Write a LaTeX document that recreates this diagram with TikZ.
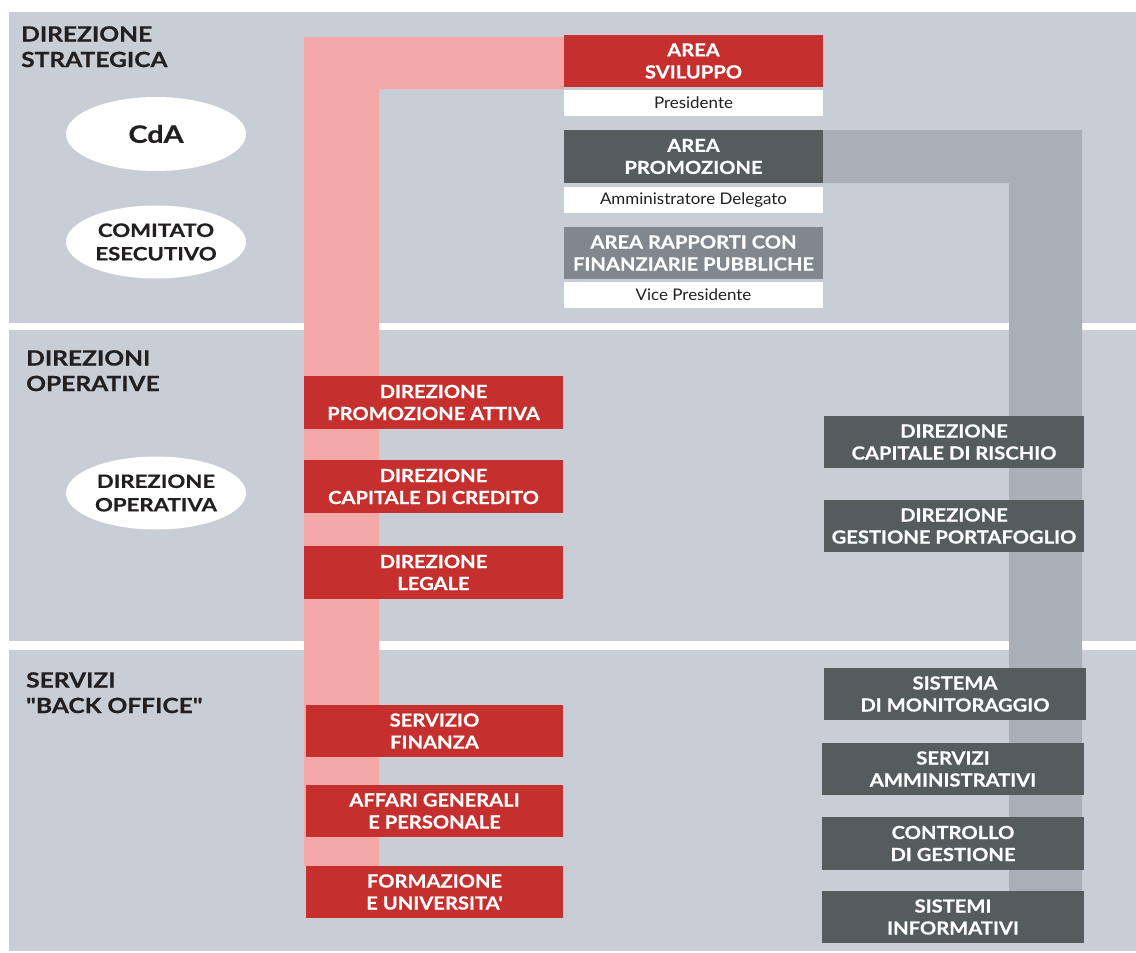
\documentclass[tikz,border=0pt]{standalone}
\usepackage{fontspec}
\setmainfont{Lato}[Ligatures=TeXOff]
\newfontfamily\fntbox{Lato}[FakeStretch=1.12, Ligatures=TeXOff, BoldFeatures={FakeBold=0.6}]
\newfontfamily\fnthdr{Lato}[FakeStretch=1.17, Ligatures=TeXOff, BoldFeatures={FakeBold=0.6}]
\newfontfamily\fntoval{Lato}[FakeStretch=1.2, Ligatures=TeXOff, BoldFeatures={FakeBold=0.6}]
\newfontfamily\fntsub{Lato}[FakeStretch=1.06, Ligatures=TeXOff]
\usetikzlibrary{shapes.geometric}
\definecolor{cband}{HTML}{C9CDD5}
\definecolor{cpink}{HTML}{F4A8A8}
\definecolor{cred}{HTML}{C5302E}
\definecolor{cdark}{HTML}{545C5D}
\definecolor{cmid}{HTML}{80878E}
\definecolor{cbar}{HTML}{A9AFB6}
\definecolor{ctext}{HTML}{231F20}
\tikzset{
  box/.style={rectangle, inner sep=0pt, minimum width=259pt, minimum height=52pt, align=center,
    text=white, font=\fntbox\fontsize{18}{22}\selectfont\bfseries},
  redb/.style={box, fill=cred},
  darkb/.style={box, fill=cdark},
  midb/.style={box, fill=cmid},
  subb/.style={rectangle, inner sep=0pt, fill=white, minimum width=259pt, minimum height=26pt,
    text=ctext, font=\fntsub\fontsize{16}{19}\selectfont},
  oval/.style={ellipse, fill=white, inner sep=0pt, minimum width=180pt, minimum height=73pt,
    align=center, text=ctext, font=\fntoval\fontsize{18.5}{23.5}\selectfont\bfseries},
  hdr/.style={anchor=north west, inner sep=0pt, align=left, text=ctext,
    font=\fnthdr\fontsize{21}{25.5}\selectfont\bfseries}
}
\begin{document}
\begin{tikzpicture}[x=1pt,y=-1pt]
\useasboundingbox (0,0) rectangle (1136,953);
\fill[white] (0,0) rectangle (1136,953);
% bands
\fill[cband] (9,12) rectangle (1136,322.5);
\fill[cband] (9,330) rectangle (1136,641);
\fill[cband] (9,650) rectangle (1136,951);
% bars
\fill[cpink] (304,37) -- (564,37) -- (564,89) -- (379,89) -- (379,866) -- (304,866) -- cycle;
\fill[cbar] (823,130) -- (1082,130) -- (1082,891) -- (1009,891) -- (1009,183) -- (823,183) -- cycle;
% headers
\node[hdr] (h1) at (21,26) {DIREZIONE\\STRATEGICA};
\node[hdr] (h2) at (26,350) {DIREZIONI\\OPERATIVE};
\node[hdr] (h3) at (26,672) {SERVIZI\\"BACK OFFICE"};
% ovals
\node[oval, minimum height=74pt, font=\fntoval\fontsize{24}{28}\selectfont\bfseries] (cda) at (156,134) {CdA};
\node[oval] (ce) at (156,242) {COMITATO\\ESECUTIVO};
\node[oval] (dop) at (156,493) {DIREZIONE\\OPERATIVA};
% top column
\node[redb] (svil) at (693.5,61) {AREA\\SVILUPPO};
\node[subb] (pres) at (693.5,103) {Presidente};
\node[darkb, minimum height=53pt] (prom) at (693.5,156.5) {AREA\\PROMOZIONE};
\node[subb] (amm) at (693.5,200) {Amministratore Delegato};
\node[midb] (rapp) at (693.5,253) {AREA RAPPORTI CON\\FINANZIARIE PUBBLICHE};
\node[subb] (vice) at (693.5,295) {Vice Presidente};
% red column
\node[redb, minimum height=53pt] (dpa) at (433.5,402.5) {DIREZIONE\\PROMOZIONE ATTIVA};
\node[redb, minimum height=53pt] (dcc) at (433.5,486.5) {DIREZIONE\\CAPITALE DI CREDITO};
\node[redb, minimum height=53pt] (dleg) at (433.5,572.5) {DIREZIONE\\LEGALE};
\node[redb, minimum width=257pt] (sfin) at (434.5,731) {SERVIZIO\\FINANZA};
\node[redb, minimum width=257pt] (aff) at (434.5,811) {AFFARI GENERALI\\E PERSONALE};
\node[redb, minimum width=257pt] (form) at (434.5,892) {FORMAZIONE\\E UNIVERSITA'};
% dark column
\node[darkb, minimum width=260pt] (dcr) at (954,442) {DIREZIONE\\CAPITALE DI RISCHIO};
\node[darkb, minimum width=260pt] (dgp) at (954,526) {DIREZIONE\\GESTIONE PORTAFOGLIO};
\node[darkb, minimum width=262pt] (smon) at (955,694) {SISTEMA\\DI MONITORAGGIO};
\node[darkb, minimum width=262pt] (samm) at (953,769) {SERVIZI\\AMMINISTRATIVI};
\node[darkb, minimum width=262pt, minimum height=53pt] (cdg) at (953,843.5) {CONTROLLO\\DI GESTIONE};
\node[darkb, minimum width=262pt] (sinf) at (953,917) {SISTEMI\\INFORMATIVI};
\end{tikzpicture}
\end{document}
